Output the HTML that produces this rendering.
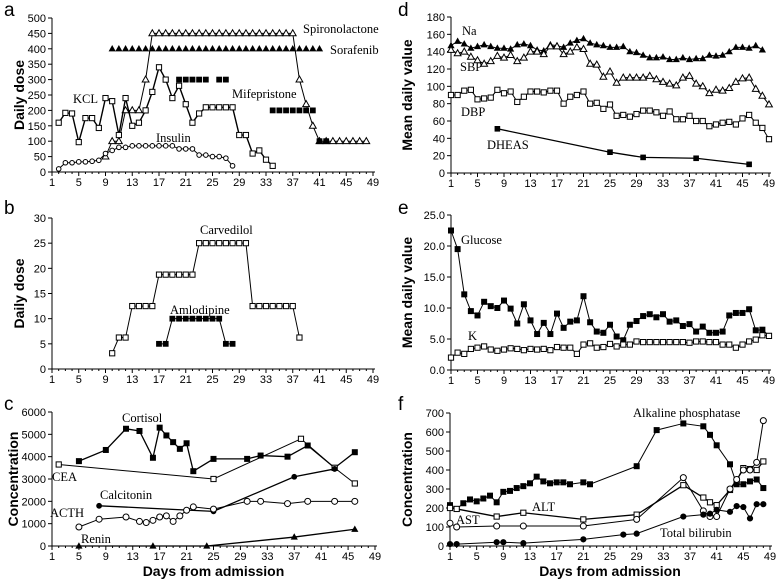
<!DOCTYPE html>
<html><head><meta charset="utf-8"><style>
body{margin:0;background:#fff}
svg{display:block}
.tk{font-family:"Liberation Sans",sans-serif;font-size:11px;fill:#000}
.ttl{font-family:"Liberation Sans",sans-serif;font-size:14px;font-weight:bold;fill:#000}
.lbl{font-family:"Liberation Serif",serif;font-size:12.5px;fill:#000}
.pl{font-family:"Liberation Sans",sans-serif;font-size:19px;fill:#000}
</style></head><body>
<svg id="c" width="776" height="587" viewBox="0 0 776 587"></svg>
<script>
// ---- data ----
const xTicks=[1,5,9,13,17,21,25,29,33,37,41,45,49];
// panel a
const kclDays=[2,3,4,5,6,7,8,9,10,11,12,13,14,15,16,17,18,19,20,21,22,23,24,25,26,27,28,29,30,31,32,33,34];
const kclVals=[160,192,190,97,175,175,143,240,230,120,240,150,160,200,260,340,300,240,280,220,160,190,210,210,210,210,210,120,120,60,70,40,20];
const spiroDays=[9,10,11,12,13,14,15,16,17,18,19,20,21,22,23,24,25,26,27,28,29,30,31,32,33,34,35,36,37,38,39,40,41,42,43,44,45,46,47,48];
const spiroVals=[50,100,100,200,200,200,300,450,450,450,450,450,450,450,450,450,450,450,450,450,450,450,450,450,450,450,450,450,450,300,220,150,100,100,100,100,100,100,100,100];
const soraDays=[10,11,12,13,14,15,16,17,18,19,20,21,22,23,24,25,26,27,28,29,30,31,32,33,34,35,36,37,38,39,40,41];
const soraVals=[400,400,400,400,400,400,400,400,400,400,400,400,400,400,400,400,400,400,400,400,400,400,400,400,400,400,400,400,400,400,400,400];
const mifeDays=[20,21,22,23,24,26,27,34,35,36,37,38,39,40,41,42];
const mifeVals=[300,300,300,300,300,300,300,200,200,200,200,200,200,200,100,100];
const insDays=[2,3,4,5,6,7,8,9,10,11,12,13,14,15,16,17,18,19,20,21,22,23,24,25,26,27,28];
const insVals=[10,30,30,33,33,35,38,60,70,80,80,85,85,85,85,85,85,85,75,75,75,55,55,50,50,45,20];
const aYTicks=[0,50,100,150,200,250,300,350,400,450,500];
// panel b
const carvDays=[10,11,12,13,14,15,16,17,18,19,20,21,22,23,24,25,26,27,28,29,30,31,32,33,34,35,36,37,38];
const carvVals=[3.125,6.25,6.25,12.5,12.5,12.5,12.5,18.75,18.75,18.75,18.75,18.75,18.75,25,25,25,25,25,25,25,25,12.5,12.5,12.5,12.5,12.5,12.5,12.5,6.25];
const amloDays=[17,18,19,20,21,22,23,24,25,26,27,28];
const amloVals=[5,5,10,10,10,10,10,10,10,10,5,5];
const bYTicks=[0,5,10,15,20,25,30];
// panel c
const cortDays=[5,9,12,14,16,17,18,19,20,21,22,25,30,32,36,39,43,46];
const cortVals=[3800,4300,5250,5150,3950,5300,4950,4650,4350,4600,3350,3900,3900,4050,4000,4500,3500,4200];
const ceaDays=[2,25,38,43,46];
const ceaVals=[3650,3000,4800,3500,2800];
const calcDays=[8,25,37,43];
const calcVals=[1800,1550,3100,3450];
const acthDays=[5,8,12,14,15,16,17,18,19,20,21,22,25,30,32,36,39,43,46];
const acthVals=[850,1200,1300,1100,1050,1150,1300,1350,1100,1350,1600,1750,1650,2000,2000,1900,2000,2000,2000];
const reninDays=[5,16,24,37,46];
const reninVals=[0,0,0,400,750];
const cYTicks=[0,1000,2000,3000,4000,5000,6000];
// panel d
const naVals=[147,152,149,144,146,148,146,144,144,143,148,149,147,142,141,148,147,145,150,153,155,150,148,147,145,145,146,140,139,136,133,133,134,131,131,133,131,132,132,136,135,136,140,145,145,144,147,142];
const sbpVals=[142,138,140,134,130,126,129,135,133,136,129,133,140,140,137,146,146,137,140,145,143,126,125,111,117,104,110,110,110,110,112,108,105,103,101,110,112,103,100,92,96,95,98,105,109,110,97,89,79];
const dbpVals=[90,90,95,96,85,86,87,96,92,94,82,88,94,94,93,95,95,80,88,90,94,80,81,74,79,66,67,65,68,72,72,70,66,71,62,62,66,60,60,54,56,58,59,56,63,67,58,52,39];
const dheasDays=[8,25,30,38,46];
const dheasVals=[51,24,18,17,10];
const dYTicks=[0,20,40,60,80,100,120,140,160,180];
// panel e
const gluVals=[22.5,19.5,12.2,9.5,8.8,11,10.3,10,11.2,9.9,7.5,10.6,8,5.8,7.6,5.8,9.1,6.8,7.8,8,11.9,7.7,6.2,6,7.3,5.4,4.8,7.3,7.9,8.7,9,8.5,9,7.8,8,7.1,7.4,6.2,7,6,6,6.2,8.8,9.2,9.2,9.8,6.4,6.5,5.5];
const kVals=[2,2.8,2.6,3.4,3.6,3.8,3.3,3.1,3.3,3.5,3.4,3.2,3.4,3.3,3.4,3.2,3.7,3.6,3.6,2.6,4.1,4.3,3.6,3.7,4.2,3.8,4.1,4.1,4.6,4.5,4.5,4.5,4.5,4.5,4.5,4.5,4.4,4.6,4.6,4.5,4.5,4.1,4.1,3.6,4.1,4.6,4.9,5.6,5.5];
const eYTicks=[0,5,10,15,20,25];
// panel f
const alpDays=[1,2,3,4,5,6,7,8,9,10,11,12,13,14,15,16,17,18,19,21,22,29,32,36,39,40,41,43,44,45,46,47,48];
const alpVals=[215,195,225,245,235,250,265,230,285,290,305,315,330,365,340,330,335,335,325,335,325,420,610,645,630,585,530,430,325,325,340,350,305];
const altDays=[1,2,8,12,21,29,36,39,40,41,43,44,45,46,47,48];
const altVals=[200,195,155,175,140,165,320,255,230,215,295,345,410,405,400,445];
const astDays=[1,2,8,12,21,29,36,39,40,41,43,44,45,46,47,48];
const astVals=[120,100,105,105,105,140,360,185,155,155,300,350,400,400,440,660];
const bilDays=[1,2,8,9,12,21,27,29,36,39,40,41,43,44,45,46,47,48];
const bilVals=[10,10,20,20,15,35,60,65,155,165,170,190,180,210,205,145,220,220];
const fYTicks=[0,100,200,300,400,500,600,700];

const NS="http://www.w3.org/2000/svg";
const svg=document.getElementById('c');
function mk(tag,attrs,parent){const e=document.createElementNS(NS,tag);for(const k in attrs)e.setAttribute(k,attrs[k]);(parent||svg).appendChild(e);return e;}
function seq(n){const a=[];for(let i=1;i<=n;i++)a.push(i);return a;}

function panel(p){
  const g=mk('g',{});
  
  
  const sx=d=>p.x0+(d-1)*(p.x1-p.x0)/48;
  const sy=v=>p.y0-(v-p.ymin)*(p.y0-p.y1)/(p.ymax-p.ymin);
  const ya=mk('line',{x1:p.x0,y1:p.y0,x2:p.x0,y2:p.y1,stroke:'#000','stroke-width':1},g);
  
  
  const xa=mk('line',{x1:p.x0,y1:p.y0,x2:p.x1+2,y2:p.y0,stroke:'#000','stroke-width':1},g);
  
  
  p.yt.forEach(v=>{
    const y=sy(v);
    mk('line',{x1:p.x0-4,y1:y,x2:p.x0,y2:y,stroke:'#000'},g);
    const t=mk('text',{x:p.x0-6,y:y+4,'text-anchor':'end',class:'tk'},g);
    t.textContent=p.fmt?p.fmt(v):v;
    
    
  });
  for(let d=1;d<=49;d++){
    const x=sx(d);
    mk('line',{x1:x,y1:p.y0,x2:x,y2:p.y0+(xTicks.includes(d)?4:2),stroke:'#000'},g);
  }
  xTicks.forEach(d=>{
    const t=mk('text',{x:sx(d),y:p.y0+14,'text-anchor':'middle',class:'tk'},g);
    t.textContent=d;
    
    
  });
  const yt=mk('text',{x:0,y:0,'text-anchor':'middle',class:'ttl',transform:`translate(${p.tx},${(p.y0+p.y1)/2}) rotate(-90)`},g);
  yt.textContent=p.ytitle;
  
  
  const pl=mk('text',{x:p.lx,y:p.ly,class:'pl'},g);
  pl.textContent=p.id;
  
  
  if(p.xtitle){
    const xt=mk('text',{x:(p.x0+p.x1)/2,y:p.y0+30,'text-anchor':'middle',class:'ttl'},g);
    xt.textContent='Days from admission';
    
    
  }
  p.series.forEach(s=>{
    const sg=mk('g',{},g);
    
    
    const pts=s.days.map((d,i)=>[sx(d),sy(s.vals[i])]);
    if(s.line!==false){
      mk('polyline',{points:pts.map(q=>q.join(',')).join(' '),fill:'none',stroke:'#000','stroke-width':s.lw||1},sg);
    }
    const r=s.r||2.6;
    pts.forEach(q=>{
      const [x,y]=q;const fill=s.m[0]==='f'?'#000':'#fff';
      let e;
      if(s.m.endsWith('sq')) e=mk('rect',{x:x-r,y:y-r,width:2*r,height:2*r,fill,stroke:s.m[0]==='f'?'none':'#000','stroke-width':1},sg);
      else if(s.m.endsWith('tri')) e=mk('polygon',{points:`${x},${y-r-0.8} ${x-r-0.6},${y+r-0.4} ${x+r+0.6},${y+r-0.4}`,fill,stroke:s.m[0]==='f'?'none':'#000','stroke-width':1},sg);
      else e=mk('circle',{cx:x,cy:y,r:r,fill,stroke:'#000','stroke-width':1},sg);
      
      
    });
  });
  p.labels.forEach(l=>{
    const t=mk('text',{x:l[1],y:l[2],class:'lbl'},g);
    t.textContent=l[0];
    
    
  });
}

panel({id:'a',x0:52,x1:373,y0:172,y1:18,ymin:0,ymax:500,yt:aYTicks,tx:24,lx:4,ly:16,ytitle:'Daily dose',
 series:[
  {name:'spironolactone',days:spiroDays,vals:spiroVals,m:'otri',r:2.8},
  {name:'sorafenib',days:soraDays,vals:soraVals,m:'ftri',r:3,line:false},
  {name:'kcl',days:kclDays,vals:kclVals,m:'osq',lw:1.4},
  {name:'mifepristone',days:mifeDays,vals:mifeVals,m:'fsq',r:2.9,line:false},
  {name:'insulin',days:insDays,vals:insVals,m:'ocirc',r:2.3}],
 labels:[['KCL',73,103],['Insulin',156,142],['Mifepristone',232,98],['Spironolactone',303,33],['Sorafenib',330,54]]});
panel({id:'b',x0:52,x1:373,y0:369,y1:218,ymin:0,ymax:30,yt:bYTicks,tx:24,lx:4,ly:214,ytitle:'Daily dose',
 series:[
  {name:'carvedilol',days:carvDays,vals:carvVals,m:'osq'},
  {name:'amlodipine',days:amloDays,vals:amloVals,m:'fsq',r:2.9}],
 labels:[['Carvedilol',200,234],['Amlodipine',170,314]]});
panel({id:'c',x0:52,x1:375,y0:546,y1:412,ymin:0,ymax:6000,yt:cYTicks,tx:18,lx:4,ly:410,ytitle:'Concentration',xtitle:true,
 series:[
  {name:'cortisol',days:cortDays,vals:cortVals,m:'fsq',r:3,lw:1.3},
  {name:'cea',days:ceaDays,vals:ceaVals,m:'osq'},
  {name:'calcitonin',days:calcDays,vals:calcVals,m:'fcirc',r:2.4,lw:1.3},
  {name:'acth',days:acthDays,vals:acthVals,m:'ocirc',r:3},
  {name:'renin',days:reninDays,vals:reninVals,m:'ftri',r:3,lw:1.3}],
 labels:[['Cortisol',122,422],['CEA',52,481],['Calcitonin',100,499],['ACTH',50,517],['Renin',81,543]]});
panel({id:'d',x0:451,x1:769,y0:173,y1:17,ymin:0,ymax:180,yt:dYTicks,tx:412,lx:398,ly:16,ytitle:'Mean daily value',
 series:[
  {name:'na',days:seq(48),vals:naVals,m:'ftri',r:3},
  {name:'sbp',days:seq(49),vals:sbpVals,m:'otri',r:2.8},
  {name:'dbp',days:seq(49),vals:dbpVals,m:'osq'},
  {name:'dheas',days:dheasDays,vals:dheasVals,m:'fsq',r:2.8,lw:1.3}],
 labels:[['Na',462,35],['SBP',460,71],['DBP',461,116],['DHEAS',487,149]]});
panel({id:'e',x0:451,x1:769,y0:370,y1:215,ymin:0,ymax:25,yt:eYTicks,tx:412,lx:398,ly:214,ytitle:'Mean daily value',fmt:v=>v.toFixed(1),
 series:[
  {name:'glucose',days:seq(49),vals:gluVals,m:'fsq',r:3},
  {name:'k',days:seq(49),vals:kVals,m:'osq'}],
 labels:[['Glucose',461,244],['K',468,340]]});
panel({id:'f',x0:450,x1:770,y0:546,y1:413,ymin:0,ymax:700,yt:fYTicks,tx:412,lx:398,ly:410,ytitle:'Concentration',xtitle:true,
 series:[
  {name:'alkaline-phosphatase',days:alpDays,vals:alpVals,m:'fsq',r:3},
  {name:'alt',days:altDays,vals:altVals,m:'osq',lw:1.3},
  {name:'ast',days:astDays,vals:astVals,m:'ocirc',r:3},
  {name:'total-bilirubin',days:bilDays,vals:bilVals,m:'fcirc',r:2.6}],
 labels:[['Alkaline phosphatase',633,417],['ALT',532,511],['AST',456,524],['Total bilirubin',660,537]]});
</script>
</body></html>
